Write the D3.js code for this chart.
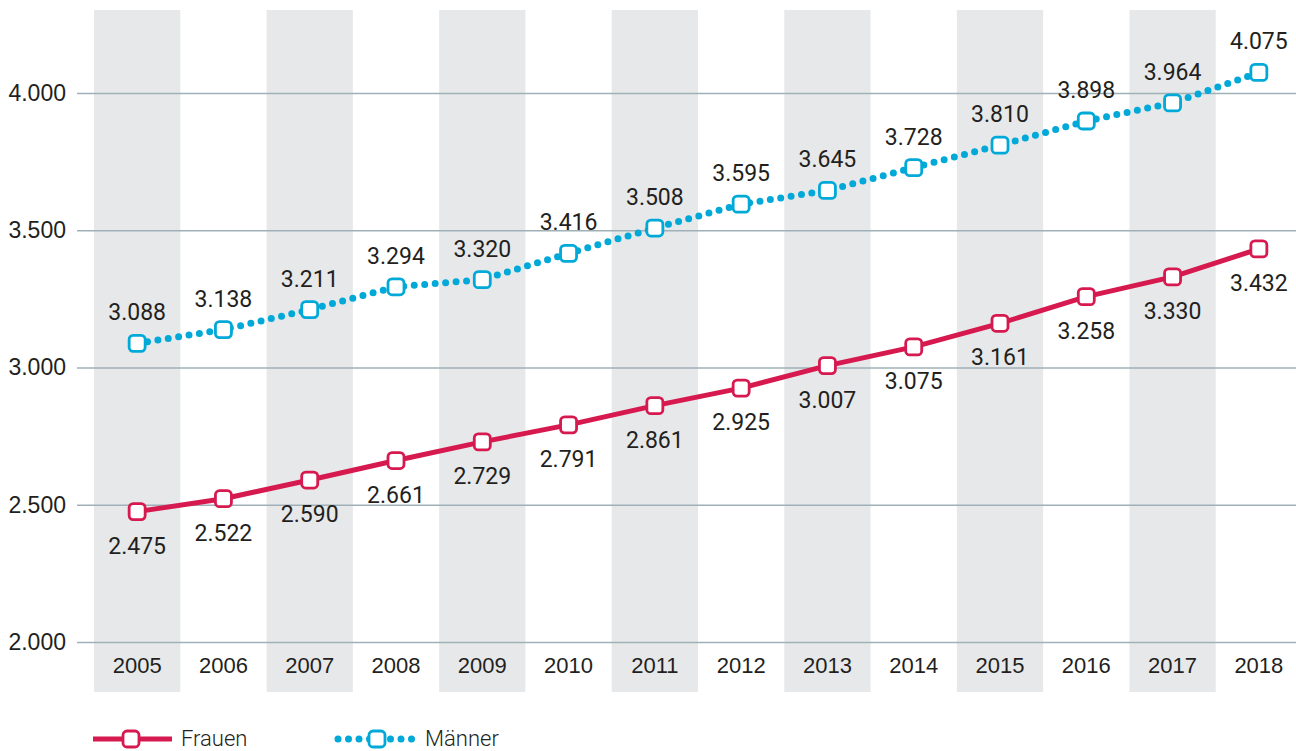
<!DOCTYPE html>
<html lang="de">
<head>
  <meta charset="UTF-8">
  <title>Frauen und Männer 2005–2018</title>
  <script src="https://cdn.jsdelivr.net/npm/d3@7"></script>
  <style>
    body { margin: 0; background: #fff; }
    svg { display: block; font-family: Roboto, "DejaVu Sans", sans-serif; }
  </style>
</head>
<body>
  <svg id="chart"></svg>
  <script>
    const years = [2005, 2006, 2007, 2008, 2009, 2010, 2011, 2012, 2013, 2014, 2015, 2016, 2017, 2018];
    const frauen = [2475, 2522, 2590, 2661, 2729, 2791, 2861, 2925, 3007, 3075, 3161, 3258, 3330, 3432];
    const maenner = [3088, 3138, 3211, 3294, 3320, 3416, 3508, 3595, 3645, 3728, 3810, 3898, 3964, 4075];
    const yTicks = [2000, 2500, 3000, 3500, 4000];
    const seriesNames = ["Frauen", "Männer"];

    const width = 1296, height = 751;
    const red = "#d61a4f", blue = "#00a9d8", ink = "#231f20";

    const de = d3.formatLocale({ decimal: ",", thousands: ".", grouping: [3], currency: ["", " €"] });
    const fmt = de.format(",.0f");

    const svg = d3.select("#chart").attr("width", width).attr("height", height);

    const x = d3.scaleBand().domain(years).range([94, 1302]).padding(0);
    const y = d3.scaleLinear().domain([2000, 4000]).range([642, 93]);

    // alternating grey column bands
    svg.append("g").selectAll("rect")
      .data(years.filter((d, i) => i % 2 === 0))
      .join("rect")
      .attr("x", d => x(d))
      .attr("y", 10)
      .attr("width", x.bandwidth())
      .attr("height", 682)
      .attr("fill", "#e7e8ea");

    // horizontal grid + y labels
    const yAxis = svg.append("g")
      .attr("transform", "translate(77,0)")
      .call(d3.axisLeft(y).tickValues(yTicks).tickSize(-(width - 77)).tickPadding(11).tickFormat(fmt));
    yAxis.select(".domain").remove();
    yAxis.selectAll(".tick line").attr("stroke", "#9fb0b6").attr("stroke-width", 1.5);
    yAxis.selectAll(".tick text")
      .attr("fill", ink).style("font-size", "23px").style("font-weight", 300);

    // year labels
    const xAxis = svg.append("g")
      .attr("transform", "translate(0,642)")
      .call(d3.axisBottom(x).tickSize(0).tickPadding(15));
    xAxis.select(".domain").remove();
    xAxis.selectAll(".tick text")
      .attr("fill", ink).style("font-size", "22px").style("font-weight", 300);

    const cx = d => x(d) + x.bandwidth() / 2;
    const line = d3.line().x(d => cx(d[0])).y(d => y(d[1]));
    const fData = years.map((yr, i) => [yr, frauen[i]]);
    const mData = years.map((yr, i) => [yr, maenner[i]]);

    function marker(g, px, py, color) {
      g.append("rect")
        .attr("x", px - 8).attr("y", py - 8)
        .attr("width", 16).attr("height", 16)
        .attr("rx", 4)
        .attr("fill", "#fff")
        .attr("stroke", color)
        .attr("stroke-width", 2.8);
    }

    // Frauen
    svg.append("path").datum(fData)
      .attr("d", line).attr("fill", "none")
      .attr("stroke", red).attr("stroke-width", 5).attr("stroke-linejoin", "round");

    // Männer (dotted)
    svg.append("path").datum(mData)
      .attr("d", line).attr("fill", "none")
      .attr("stroke", blue).attr("stroke-width", 7)
      .attr("stroke-linecap", "round").attr("stroke-dasharray", "0 10.5");

    const fg = svg.append("g"), mg = svg.append("g");
    fData.forEach(d => marker(fg, cx(d[0]), y(d[1]), red));
    mData.forEach(d => marker(mg, cx(d[0]), y(d[1]), blue));

    // value labels
    svg.append("g").selectAll("text")
      .data(fData).join("text")
      .attr("x", d => cx(d[0]))
      .attr("y", d => y(d[1]) + 42)
      .attr("text-anchor", "middle")
      .attr("fill", ink).style("font-size", "23px").style("font-weight", 400)
      .text(d => fmt(d[1]));

    svg.append("g").selectAll("text")
      .data(mData).join("text")
      .attr("x", d => cx(d[0]))
      .attr("y", d => y(d[1]) - 23)
      .attr("text-anchor", "middle")
      .attr("fill", ink).style("font-size", "23px").style("font-weight", 400)
      .text(d => fmt(d[1]));

    // legend
    const leg = svg.append("g");
    const ly = 739;
    leg.append("line").attr("x1", 93).attr("x2", 172).attr("y1", ly).attr("y2", ly)
      .attr("stroke", red).attr("stroke-width", 5);
    marker(leg, 131, ly, red);
    leg.append("text").attr("x", 181).attr("y", ly + 7)
      .attr("fill", ink).style("font-size", "22px").style("font-weight", 300)
      .text(seriesNames[0]);

    leg.append("line").attr("x1", 338).attr("x2", 420).attr("y1", ly).attr("y2", ly)
      .attr("stroke", blue).attr("stroke-width", 7)
      .attr("stroke-linecap", "round").attr("stroke-dasharray", "0 10.5");
    marker(leg, 377, ly, blue);
    leg.append("text").attr("x", 425).attr("y", ly + 7)
      .attr("fill", ink).style("font-size", "22px").style("font-weight", 300)
      .text(seriesNames[1]);
  </script>
</body>
</html>
